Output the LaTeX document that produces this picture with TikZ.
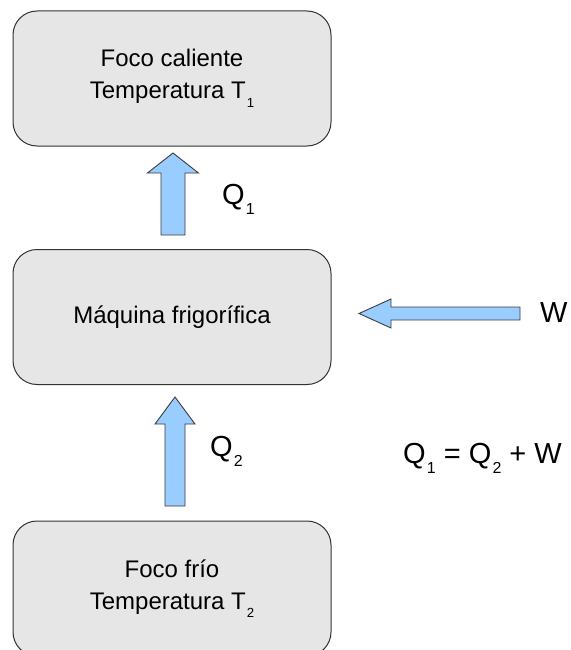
\documentclass[tikz,border=0pt]{standalone}
\usepackage{fontspec}
\setmainfont{Liberation Sans}

\definecolor{boxfill}{HTML}{E6E6E6}
\definecolor{boxline}{HTML}{333333}
\definecolor{arrowfill}{HTML}{99CCFF}
\definecolor{arrowline}{HTML}{3C3C3C}

% low index as the picture prints it
\newcommand{\lowsub}[1]{\hspace{0.04em}\raisebox{-0.36em}{\scalebox{0.55}{#1}}}
% block arrow: tail, angle, length, shaft half, head half, head length
\newcommand{\blockarrow}[6]{%
  \draw[flecha, shift={(#1)}, rotate=#2] (0,-#4) -- ({#3-#6},-#4) -- ({#3-#6},-#5) -- (#3,0)
    -- ({#3-#6},#5) -- ({#3-#6},#4) -- (0,#4) -- cycle;}

\begin{document}
\begin{tikzpicture}[x=1pt,y=-1pt]
  \tikzstyle{foco}=[draw=boxline, fill=boxfill, line width=1pt, rounded corners=24pt,
    minimum width=318pt, minimum height=135pt, align=center, font=\fontsize{24}{32}\selectfont]
  \tikzstyle{flecha}=[draw=arrowline, fill=arrowfill, line width=0.9pt, line join=miter]
  \tikzstyle{rotulo}=[font=\fontsize{29}{34}\selectfont, inner sep=0pt, anchor=base west]

  \clip (0,0) rectangle (570,650); % Page

  \node[foco] (H) at (172,78.5) {Foco caliente\\Temperatura T\lowsub{1}}; % Top box
  \node[foco] (M) at (172,317) {Máquina frigorífica}; % Middle box
  \node[foco] (C) at (172,588.5) {Foco frío\\Temperatura T\lowsub{2}}; % Bottom box

  \coordinate (Q1) at (173,235);
  \coordinate (Q2) at (175,506);
  \coordinate (W) at (520,313.5);
  \blockarrow{Q1}{90}{82}{12}{25.5}{20} % Top arrow
  \blockarrow{Q2}{90}{109}{10}{20}{27} % Bottom arrow
  \blockarrow{W}{180}{161}{6.5}{14.5}{32} % Work arrow

  \node[rotulo] (A) at (222,204) {Q\lowsub{1}};
  \node[rotulo] (B) at (210,456) {Q\lowsub{2}};
  \node[rotulo] (D) at (540,322) {W};
  \node[rotulo] (E) at (403,463) {Q\lowsub{1} = Q\lowsub{2} + W}; % Balance
\end{tikzpicture}
\end{document}
